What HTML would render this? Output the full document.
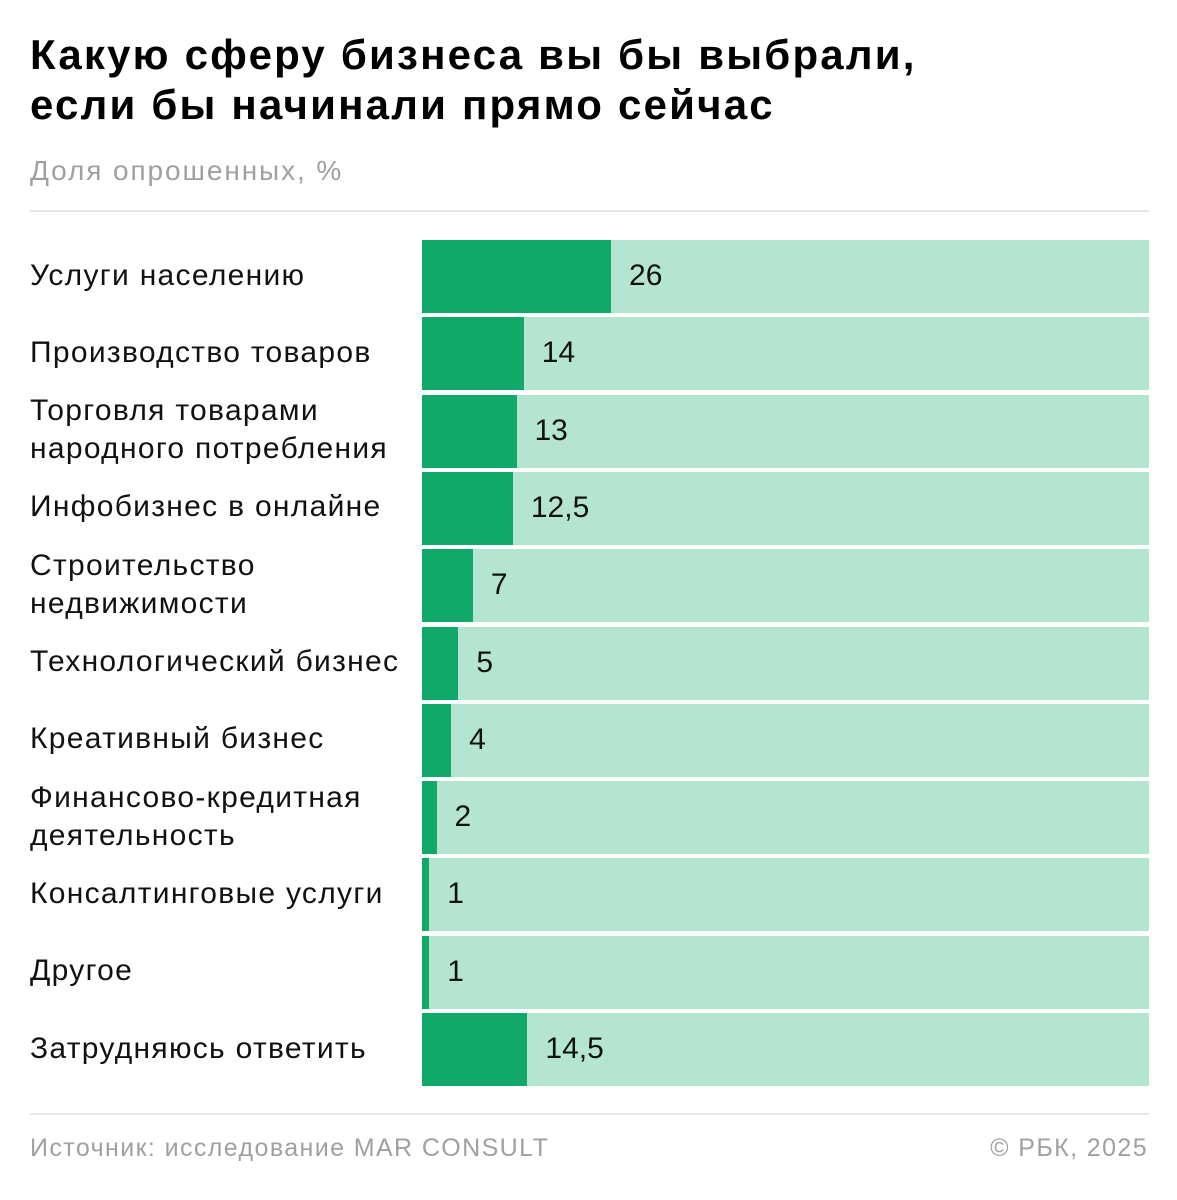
<!DOCTYPE html>
<html><head><meta charset="utf-8">
<style>
body{margin:0;background:#fff;font-family:"Liberation Sans",sans-serif;}
#wrap{position:relative;width:1177px;height:1200px;overflow:hidden;}
.title{position:absolute;left:30px;top:30px;font-size:42px;font-weight:bold;line-height:50px;color:#000;letter-spacing:2.2px;}
.sub{position:absolute;left:30px;top:155px;font-size:28px;color:#a0a0a0;letter-spacing:1.9px;}
.rule{position:absolute;left:30px;width:1119px;height:2px;background:#e6e6e6;}
.foot{position:absolute;top:1134px;font-size:25px;color:#a0a0a0;letter-spacing:1.4px;}
.lab{position:absolute;left:30px;font-size:30px;line-height:38px;color:#111;letter-spacing:1.3px;}
.val{position:absolute;font-size:30px;color:#111;}
</style></head><body>
<div id="wrap">
<div class="title">Какую сферу бизнеса вы бы выбрали,<br>если бы начинали прямо сейчас</div>
<div class="sub">Доля опрошенных, %</div>
<div class="rule" style="top:210px"></div>
<div id="rows"></div>
<div class="rule" style="top:1113px"></div>
<div class="foot" style="left:30px">Источник: исследование MAR CONSULT</div>
<div class="foot" style="right:29px">© РБК, 2025</div>
</div>
<script>
const categories=["Услуги населению","Производство товаров","Торговля товарами<br>народного потребления","Инфобизнес в онлайне","Строительство<br>недвижимости","Технологический бизнес","Креативный бизнес","Финансово-кредитная<br>деятельность","Консалтинговые услуги","Другое","Затрудняюсь ответить"];
const values=[26,14,13,12.5,7,5,4,2,1,1,14.5];
const valueLabels=["26","14","13","12,5","7","5","4","2","1","1","14,5"];
const x0=422,w=727,top0=240,pitch=77.3,bh=73;
const xs=v=>v/100*w;
const root=document.getElementById('rows');
categories.forEach((c,i)=>{
 const y=top0+i*pitch;
 const bg=document.createElement('div');
 
 
 bg.style.cssText=`position:absolute;left:${x0}px;top:${y}px;width:${w}px;height:${bh}px;background:#b4e5d1`;
 root.appendChild(bg);
 const b=document.createElement('div');
 
 
 b.style.cssText=`position:absolute;left:${x0}px;top:${y}px;width:${xs(values[i])}px;height:${bh}px;background:#11a96a`;
 root.appendChild(b);
 const v=document.createElement('div');
 v.className='val';
 
 
 v.style.left=(x0+xs(values[i])+18)+'px';v.style.top=(y+19)+'px';
 v.textContent=valueLabels[i];
 root.appendChild(v);
 const l=document.createElement('div');
 l.className='lab';
 
 
 l.innerHTML=c;
 const two=c.includes('<br>');
 l.style.top=(y+bh/2-(two?38:19)-1)+'px';
 root.appendChild(l);
});
</script>
</body></html>
